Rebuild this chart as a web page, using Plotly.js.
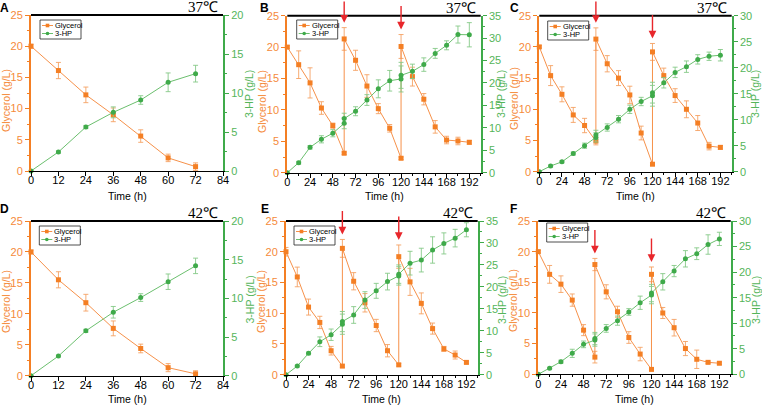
<!DOCTYPE html>
<html>
<head>
<meta charset="utf-8">
<script src="https://cdn.plot.ly/plotly-3.0.1.min.js"></script>
<style>
  html, body { margin: 0; padding: 0; background: #ffffff; }
  #chart { width: 762px; height: 405px; }
</style>
</head>
<body>
<div id="chart"></div>
<script>
// Sampling times (h); fed-batch runs have a second value at each feeding time
const timeBatch = [0, 12, 24, 36, 48, 60, 72];
const timeFed = [0, 12, 24, 36, 48, 60, 60, 72, 84, 96, 108, 120, 120, 132, 144, 156, 168, 180, 192];

// A: 37 °C batch
const glyA    = [20, 16.1, 12.2, 9.0, 5.6, 2.1, 0.7];
const glyErrA = [0.3, 1.3, 1.25, 1.1, 1.0, 0.6, 0.6];
const hpA     = [0, 2.44, 5.64, 7.52, 9.1, 11.37, 12.48];
const hpErrA  = [0, 0.15, 0.2, 0.7, 0.55, 1.2, 1.07];

// B: 37 °C fed-batch
const glyB    = [20, 17.2, 14.3, 10.3, 7.5, 3.1, 21.3, 17.9, 13.8, 10.2, 7.07, 2.3, 20.1, 15.3, 11.7, 7.3, 5.2, 5.05, 4.84];
const glyErrB = [0.2, 2.2, 2.4, 1.0, 0.4, 0.2, 1.8, 1.6, 1.8, 0.8, 0.6, 0.2, 1.9, 1.5, 0.9, 1.0, 0.6, 0.6, 0.3];
const hpB     = [0, 2.23, 5.66, 7.45, 8.8, 11.0, 12.06, 13.7, 16.2, 18.7, 20.5, 20.9, 21.7, 22.6, 24.1, 26.6, 28.4, 30.8, 30.75];
const hpErrB  = [0, 0.3, 0.4, 0.8, 0.8, 1.2, 1.2, 1.0, 1.2, 2.0, 2.3, 2.9, 2.9, 1.6, 1.5, 1.1, 1.0, 1.9, 2.7];

// C: 37 °C fed-batch
const glyC    = [20, 15.4, 12.4, 9.1, 7.4, 4.9, 21.25, 17.3, 15.0, 12.3, 6.2, 1.2, 19.2, 15.4, 12.2, 10.0, 7.8, 4.1, 3.9];
const glyErrC = [0.2, 1.6, 1.2, 1.2, 1.15, 0.6, 1.8, 1.3, 1.2, 1.4, 1.1, 0.2, 1.35, 1.2, 1.1, 1.35, 1.2, 0.6, 0.3];
const hpC     = [0, 1.1, 1.9, 3.5, 5.0, 6.6, 7.07, 8.5, 10.1, 12.0, 13.5, 14.6, 15.2, 17.1, 19.1, 20.2, 21.6, 22.2, 22.4];
const hpErrC  = [0, 0.2, 0.2, 0.3, 0.5, 0.9, 0.9, 0.7, 0.7, 0.8, 0.8, 2.0, 2.0, 1.0, 1.0, 1.1, 0.9, 0.8, 1.1];

// D: 42 °C batch
const glyD    = [20.0, 15.5, 11.8, 7.65, 4.4, 1.3, 0.3];
const glyErrD = [0.3, 1.3, 1.35, 1.2, 0.7, 0.65, 0.5];
const hpD     = [0, 2.54, 5.8, 8.2, 10.1, 12.15, 14.2];
const hpErrD  = [0, 0.1, 0.2, 0.75, 0.5, 1.0, 1.0];

// E: 42 °C fed-batch
const glyE    = [20, 15.9, 11.0, 8.5, 3.9, 1.4, 20.55, 15.2, 11.7, 8.0, 3.9, 1.6, 19.2, 15.1, 11.6, 7.5, 4.2, 3.2, 2.0];
const glyErrE = [0.7, 1.6, 1.3, 1.0, 0.7, 0.2, 1.45, 1.4, 1.5, 1.0, 1.0, 0.2, 1.9, 2.2, 1.7, 0.9, 0.4, 0.65, 0.2];
const hpE     = [0, 1.97, 4.86, 7.5, 9.1, 11.5, 12.1, 13.6, 17.0, 19.1, 21.2, 22.5, 22.9, 25.4, 26.1, 28.4, 29.9, 31.1, 33.0];
const hpErrE  = [0, 0.2, 0.3, 1.1, 1.3, 2.3, 2.3, 1.9, 1.9, 1.7, 1.9, 2.1, 2.1, 2.7, 2.7, 3.0, 2.4, 2.0, 1.6];

// F: 42 °C fed-batch
const glyF    = [20, 16.3, 14.7, 12.1, 7.2, 2.8, 17.9, 13.45, 10.2, 6.0, 3.3, 0.8, 16.3, 10.0, 7.6, 4.2, 2.45, 1.95, 1.8];
const glyErrF = [0.2, 1.45, 1.35, 1.0, 0.9, 0.95, 1.0, 1.15, 0.9, 0.95, 1.1, 0.2, 1.2, 0.9, 1.35, 1.15, 1.5, 0.2, 0.2];
const hpF     = [0, 1.17, 2.47, 4.1, 5.86, 6.7, 7.0, 8.98, 10.5, 12.2, 14.0, 15.5, 15.9, 18.1, 20.2, 22.6, 23.6, 25.4, 26.5];
const hpErrF  = [0, 0.2, 0.3, 0.8, 0.65, 1.2, 1.2, 0.75, 0.9, 0.65, 1.3, 1.7, 1.7, 1.6, 1.1, 1.6, 1.15, 1.9, 1.3];

// Indices of the glycerol values measured right after each feeding
const feedIdx = [6, 12];

const panels = [
  { label: 'A', temp: '37℃', t: timeBatch, gly: glyA, glyErr: glyErrA, hp: hpA, hpErr: hpErrA, hpMax: 20, xMax: 84,  xStep: 12, feeds: [] },
  { label: 'B', temp: '37℃', t: timeFed,   gly: glyB, glyErr: glyErrB, hp: hpB, hpErr: hpErrB, hpMax: 35, xMax: 204, xStep: 24, feeds: feedIdx },
  { label: 'C', temp: '37℃', t: timeFed,   gly: glyC, glyErr: glyErrC, hp: hpC, hpErr: hpErrC, hpMax: 30, xMax: 204, xStep: 24, feeds: feedIdx },
  { label: 'D', temp: '42℃', t: timeBatch, gly: glyD, glyErr: glyErrD, hp: hpD, hpErr: hpErrD, hpMax: 20, xMax: 84,  xStep: 12, feeds: [] },
  { label: 'E', temp: '42℃', t: timeFed,   gly: glyE, glyErr: glyErrE, hp: hpE, hpErr: hpErrE, hpMax: 35, xMax: 204, xStep: 24, feeds: feedIdx },
  { label: 'F', temp: '42℃', t: timeFed,   gly: glyF, glyErr: glyErrF, hp: hpF, hpErr: hpErrF, hpMax: 30, xMax: 204, xStep: 24, feeds: feedIdx }
];

// Page geometry (pixels): plot box, legend box, panel letter, axis-title centres
const W = 762, H = 405;
const boxes = [
  { x: [31, 223],      y: [15, 171],     leg: [40, 20],     tag: [-1, 0],    tL: [6, 101],   tR: [249, 94],    tX: 195.5 },
  { x: [287.3, 480.7], y: [15.7, 172.7], leg: [296.7, 20],  tag: [259, 0],   tL: [262, 102], tR: [501, 94],    tX: 196 },
  { x: [539.3, 731.7], y: [15.7, 171.7], leg: [547.7, 21],  tag: [509, 0],   tL: [514, 99],  tR: [755, 94],    tX: 196 },
  { x: [31, 223],      y: [221, 375.7],  leg: [39.3, 226],  tag: [-1, 201],  tL: [6, 302],   tR: [249.5, 300], tX: 398.5 },
  { x: [286, 477.7],   y: [221, 374.7],  leg: [294, 226],   tag: [260, 201], tL: [261, 302], tR: [502, 300],   tX: 398.5 },
  { x: [538.3, 730.7], y: [221, 374.3],  leg: [546.7, 223], tag: [509, 201], tL: [513, 301], tR: [756, 300],   tX: 398.5 }
];
const px = v => v / W;
const py = v => 1 - v / H;

const ORANGE = '#F47F24', ORANGE_LINE = '#F6914A', ORANGE_ERR = '#F5A163', ORANGE_TXT = '#F58A3A';
const GREEN = '#3FAA4A', GREEN_LINE = '#6BBF6E', GREEN_ERR = '#86C988', GREEN_TXT = '#55B55A';
const FONT = 'Liberation Sans, Arial, sans-serif';

const traces = [];
const shapes = [];
const annotations = [];
const layout = {
  width: W, height: H,
  margin: { l: 0, r: 0, t: 0, b: 0 },
  paper_bgcolor: '#ffffff', plot_bgcolor: 'rgba(0,0,0,0)',
  showlegend: false,
  font: { family: FONT, size: 11, color: '#000' }
};

function addText(x, y, text, color, angle) {
  annotations.push({ xref: 'paper', yref: 'paper', x: px(x), y: py(y),
    xanchor: 'center', yanchor: 'middle', showarrow: false, text: text,
    textangle: angle || 0, borderpad: 0,
    font: { family: FONT, size: 10.5, color: color } });
}

function addLegend(left, top) {
  const w = 41, h = 19;
  shapes.push({ type: 'rect', xref: 'paper', yref: 'paper', layer: 'above',
    x0: px(left), x1: px(left + w), y0: py(top + h), y1: py(top),
    line: { color: '#222', width: 0.8 }, fillcolor: '#ffffff' });
  const rows = [
    { name: 'Glycerol', color: ORANGE, line: ORANGE_LINE, shape: 'rect',   dy: 5.5 },
    { name: '3-HP',     color: GREEN,  line: GREEN_LINE,  shape: 'circle', dy: 13.5 }
  ];
  rows.forEach(r => {
    const yc = top + r.dy, xc = left + 7.5, s = 1.8;
    shapes.push({ type: 'line', xref: 'paper', yref: 'paper', layer: 'above',
      x0: px(left + 2), x1: px(left + 13), y0: py(yc), y1: py(yc),
      line: { color: r.line, width: 1 } });
    shapes.push({ type: r.shape, xref: 'paper', yref: 'paper', layer: 'above',
      x0: px(xc - s), x1: px(xc + s), y0: py(yc + s), y1: py(yc - s),
      line: { width: 0 }, fillcolor: r.color });
    annotations.push({ xref: 'paper', yref: 'paper', x: px(left + 14), y: py(yc),
      xanchor: 'left', yanchor: 'middle', showarrow: false, text: r.name,
      borderpad: 0, font: { family: FONT, size: 7.5, color: '#000' } });
  });
}

panels.forEach((p, i) => {
  const b = boxes[i];
  const xs = i === 0 ? '' : String(i + 1);
  const xId = 'x' + xs;
  const ylNum = 2 * i + 1, yrNum = 2 * i + 2;
  const ylId = ylNum === 1 ? 'y' : 'y' + ylNum;
  const yrId = 'y' + yrNum;

  const xDom = [px(b.x[0]), px(b.x[1])];
  const yDom = [py(b.y[1]), py(b.y[0])];

  layout['xaxis' + xs] = {
    domain: xDom, anchor: ylId, range: [0, p.xMax], dtick: p.xStep, tick0: 0,
    showgrid: false, zeroline: false, showline: true, linecolor: '#000', linewidth: 1,
    ticks: 'outside', ticklen: 4, tickwidth: 1, tickcolor: '#000', ticklabelstandoff: -5,
    minor: p.xStep === 24 ? { dtick: 12, ticks: 'outside', ticklen: 2, tickcolor: '#000' } : undefined,
    tickfont: { family: FONT, size: 11, color: '#000' }
  };
  layout[ylNum === 1 ? 'yaxis' : 'yaxis' + ylNum] = {
    domain: yDom, anchor: xId, range: [0, 25], dtick: 5, tick0: 0,
    showgrid: false, zeroline: false, showline: true, linecolor: ORANGE, linewidth: 2,
    ticks: 'outside', ticklen: 4, tickwidth: 1, tickcolor: ORANGE,
    minor: { dtick: 2.5, ticks: 'outside', ticklen: 2, tickcolor: ORANGE },
    tickfont: { family: FONT, size: 11, color: ORANGE_TXT }
  };
  layout['yaxis' + yrNum] = {
    domain: yDom, anchor: xId, overlaying: ylId, side: 'right', range: [0, p.hpMax], dtick: 5, tick0: 0,
    showgrid: false, zeroline: false, showline: true, linecolor: GREEN, linewidth: 2,
    ticks: 'outside', ticklen: 4, tickwidth: 1, tickcolor: GREEN,
    minor: { dtick: 2.5, ticks: 'outside', ticklen: 2, tickcolor: GREEN },
    tickfont: { family: FONT, size: 11, color: GREEN_TXT }
  };

  traces.push({
    type: 'scatter', mode: 'lines+markers', name: 'Glycerol',
    x: p.t, y: p.gly, xaxis: xId, yaxis: ylId, cliponaxis: false,
    line: { color: ORANGE_LINE, width: 1 },
    marker: { symbol: 'square', size: 5, color: ORANGE },
    error_y: { type: 'data', array: p.glyErr, visible: true, color: ORANGE_ERR, thickness: 0.9, width: 2.5 }
  });
  traces.push({
    type: 'scatter', mode: 'lines+markers', name: '3-HP',
    x: p.t, y: p.hp, xaxis: xId, yaxis: yrId, cliponaxis: false,
    line: { color: GREEN_LINE, width: 1 },
    marker: { symbol: 'circle', size: 5, color: GREEN },
    error_y: { type: 'data', array: p.hpErr, visible: true, color: GREEN_ERR, thickness: 0.9, width: 2.5 }
  });

  // heavy black frame line along the top of each panel
  shapes.push({ type: 'line', xref: xId + ' domain', yref: ylId + ' domain',
    x0: 0, x1: 1, y0: 1, y1: 1, line: { color: '#000', width: 2 } });

  // axis titles
  addText(b.tL[0], b.tL[1], 'Glycerol (g/L)', ORANGE_TXT, -90);
  addText(b.tR[0], b.tR[1], '3-HP (g/L)', GREEN_TXT, -90);
  addText((b.x[0] + b.x[1]) / 2, b.tX, 'Time (h)', '#000', 0);

  // temperature tag
  annotations.push({ xref: xId + ' domain', yref: ylId + ' domain', x: 1, y: 1,
    xanchor: 'right', yanchor: 'bottom', xshift: -3, yshift: -2, showarrow: false,
    text: p.temp, font: { family: 'Liberation Serif, Times New Roman, serif', size: 15, color: '#000' } });

  // panel letter
  annotations.push({ xref: 'paper', yref: 'paper', x: px(b.tag[0]), y: py(b.tag[1]),
    xanchor: 'left', yanchor: 'top', showarrow: false, text: '<b>' + p.label + '</b>',
    borderpad: 0, font: { family: FONT, size: 12, color: '#000' } });

  // feeding arrows above the post-feed glycerol points
  p.feeds.forEach(k => {
    annotations.push({ xref: xId, yref: ylId, x: p.t[k], y: p.gly[k] + p.glyErr[k],
      text: '', showarrow: true, ax: 0, ay: -30, standoff: 5,
      arrowhead: 2, arrowsize: 1.1, arrowwidth: 1.4, arrowcolor: '#E8262B' });
  });

  addLegend(b.leg[0], b.leg[1]);
});

layout.shapes = shapes;
layout.annotations = annotations;

Plotly.newPlot('chart', traces, layout, { staticPlot: true, displayModeBar: false });
</script>
</body>
</html>
